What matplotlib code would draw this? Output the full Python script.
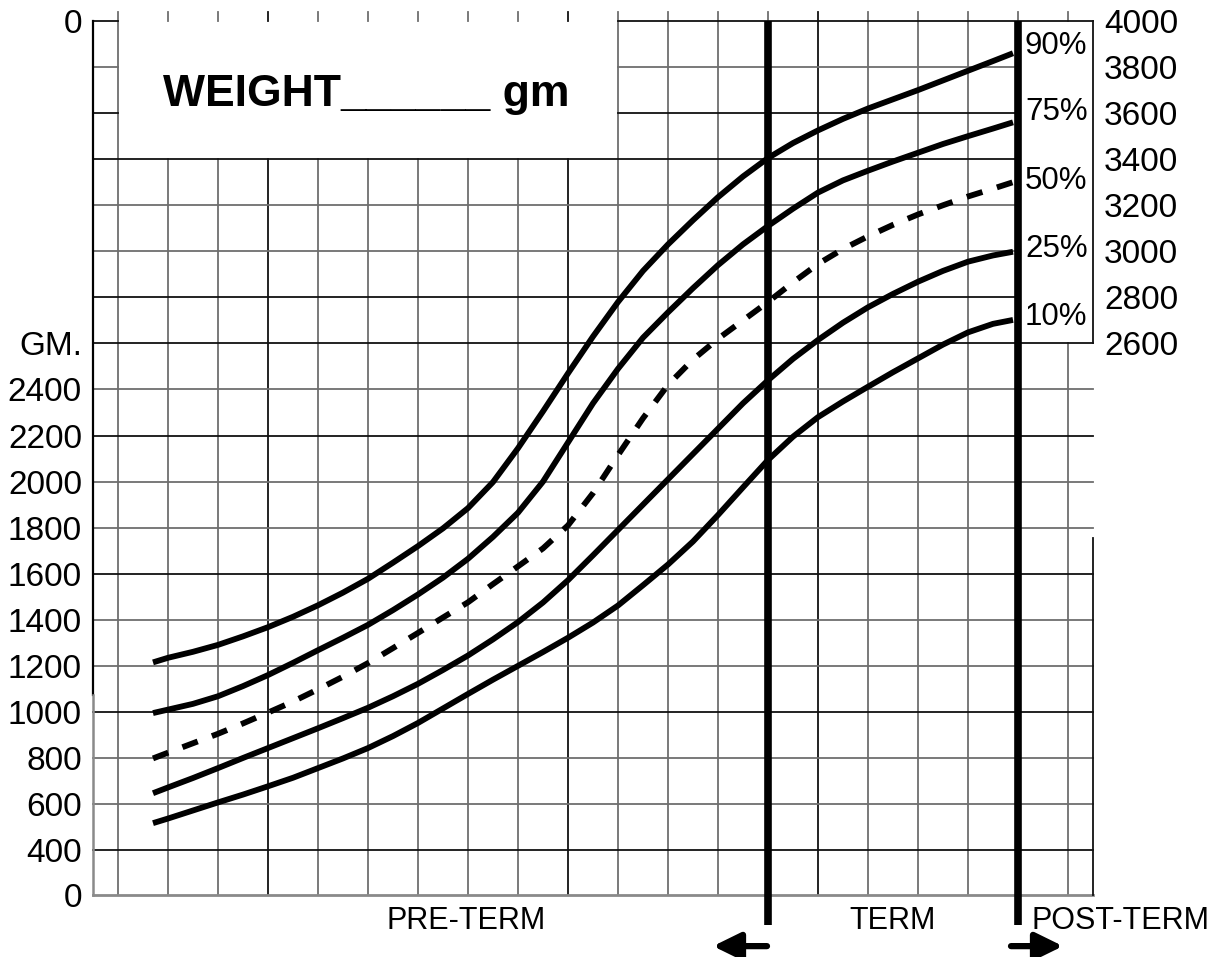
import matplotlib.pyplot as plt

plt.rcParams['font.family'] = ['Liberation Sans', 'DejaVu Sans']

# gestational age (weeks) and weight percentiles (gm)
weeks = [24.7, 25, 25.5, 26, 26.5, 27, 27.5, 28, 28.5, 29, 29.5, 30, 30.5, 31, 31.5, 32, 32.5, 33,
         33.5, 34, 34.5, 35, 35.5, 36, 36.5, 37, 37.5, 38, 38.5, 39, 39.5, 40, 40.5, 41, 41.5, 41.9]
p90 = [1215, 1235, 1261, 1291, 1328, 1368, 1413, 1463, 1518, 1578, 1648, 1720, 1797, 1885, 1998, 2145,
       2305, 2470, 2630, 2780, 2915, 3030, 3135, 3235, 3325, 3405, 3470, 3525, 3575, 3620, 3660, 3700,
       3742, 3784, 3826, 3860]
p75 = [995, 1010, 1035, 1068, 1112, 1160, 1213, 1268, 1322, 1378, 1442, 1510, 1583, 1665, 1760, 1865,
       2000, 2170, 2340, 2490, 2625, 2735, 2840, 2940, 3030, 3110, 3185, 3255, 3308, 3350, 3390, 3428,
       3466, 3500, 3533, 3560]
p50 = [798, 823, 864, 905, 950, 997, 1045, 1098, 1153, 1212, 1277, 1343, 1410, 1476, 1555, 1632,
       1710, 1810, 1950, 2115, 2275, 2420, 2530, 2620, 2700, 2780, 2865, 2945, 3010, 3065, 3115, 3160,
       3200, 3238, 3272, 3300]
p25 = [647, 672, 713, 756, 800, 843, 886, 929, 973, 1018, 1068, 1122, 1182, 1245, 1315, 1390,
       1475, 1572, 1680, 1790, 1900, 2010, 2120, 2230, 2340, 2440, 2533, 2615, 2690, 2757, 2815, 2868,
       2915, 2955, 2982, 2998]
p10 = [517, 537, 572, 607, 641, 677, 714, 756, 798, 843, 895, 952, 1015, 1078, 1140, 1200,
       1260, 1322, 1388, 1462, 1550, 1640, 1740, 1855, 1975, 2094, 2195, 2280, 2348, 2412, 2475, 2535,
       2595, 2648, 2685, 2702]

pct_labels = ['90%', '75%', '50%', '25%', '10%']
pct_label_y = [3891, 3605, 3305, 3010, 2715]

left_ticks = [205, 400, 600, 800, 1000, 1200, 1400, 1600, 1800, 2000, 2200, 2400, 2600, 4000]
left_labels = ['0', '400', '600', '800', '1000', '1200', '1400', '1600', '1800', '2000', '2200',
               '2400', 'GM.', '0']
right_ticks = [2600, 2800, 3000, 3200, 3400, 3600, 3800, 4000]
right_labels = ['2600', '2800', '3000', '3200', '3400', '3600', '3800', '4000']

term_weeks = [37, 42]

X0, X1 = 23.5, 43.5
Y0, Y1 = 205, 4000
DARK = '#111111'
GRAY = '#6e6e6e'

fig = plt.figure(figsize=(12.26, 9.57), dpi=100)
ax = fig.add_axes([93 / 1226, 62 / 957, 1000 / 1226, 874 / 957])
ax.set_xlim(X0, X1)
ax.set_ylim(Y0, Y1)
for s in ax.spines.values():
   s.set_visible(False)

# ---- grid (weight box at top left has no grid) ----
for w in range(24, 44):
   c = DARK if w in (27, 33, 38) else GRAY
   top = Y1
   if 25 <= w <= 33:
      top = 3400
   if w == 43:
      top = 2600
   ax.plot([w, w], [Y0, top], color=c, lw=1.3, zorder=1)
   ax.plot([w, w], [Y1, Y1 + 40], color=c, lw=1.3, zorder=1, clip_on=False)

for g in range(400, 4001, 200):
   c = DARK if g in (400, 1000, 1600, 2200, 2600, 2800, 3400, 3600, 4000) else GRAY
   if g <= 2600:
      segs = [(X0, X1)]
   elif g <= 3400:
      segs = [(X0, 42)]
   elif g < 4000:
      segs = [(X0, 24), (34, 42)]
   else:
      segs = [(X0, 24), (34, X1)]
   for a, b in segs:
      ax.plot([a, b], [g, g], color=c, lw=1.3, zorder=1, clip_on=False)

# borders
ax.plot([X0, X0], [1073, Y1], color='black', lw=1.6, clip_on=False, zorder=2)
ax.plot([X0, X0], [Y0, 1073], color='#8a8a8a', lw=1.8, clip_on=False, zorder=2)
ax.plot([X0, X1], [Y0, Y0], color='#8a8a8a', lw=2.0, clip_on=False, zorder=2)
ax.plot([X1, X1], [Y0, 1755], color=DARK, lw=1.3, clip_on=False, zorder=2)
ax.plot([X1, X1], [2600, Y1], color=DARK, lw=1.3, clip_on=False, zorder=2)

# term boundaries
for w in term_weeks:
   ax.plot([w, w], [74, Y1], color='black', lw=5.5, solid_capstyle='butt', clip_on=False, zorder=4)

# ---- percentile curves ----
for vals in [p90, p75, p25, p10]:
   ax.plot(weeks, vals, color='black', lw=4.2, solid_capstyle='butt', solid_joinstyle='round', zorder=3)
ax.plot(weeks, p50, color='black', lw=4.2, linestyle=(0, (2.8, 2.6)), dash_capstyle='butt',
        dash_joinstyle='round', zorder=3)

for lbl, y in zip(pct_labels, pct_label_y):
   ax.text(42.14, y, lbl, fontsize=22.5, ha='left', va='center')

# ---- axis labels ----
ax.set_xticks([])
ax.set_yticks(left_ticks, left_labels, fontsize=24)
ax.tick_params(axis='y', length=0, pad=8)

ax2 = ax.twinx()
ax2.set_ylim(Y0, Y1)
for s in ax2.spines.values():
   s.set_visible(False)
ax2.set_yticks(right_ticks, right_labels, fontsize=24)
ax2.tick_params(axis='y', length=0, pad=8)

ax.text(24.9, 3631, 'WEIGHT______ gm', fontsize=32, fontweight='bold', ha='left', va='baseline')

ax.text(30.96, 92, 'PRE-TERM', fontsize=22, ha='center', va='center')
ax.text(39.5, 92, 'TERM', fontsize=22, ha='center', va='center')
ax.text(42.28, 92, 'POST-TERM', fontsize=22, ha='left', va='center')

arrow = dict(arrowstyle='-|>,head_length=0.55,head_width=0.27', lw=4.5, color='black',
             mutation_scale=30, shrinkA=0, shrinkB=0)
ax.annotate('', xy=(35.9, -17), xytext=(36.98, -17), arrowprops=arrow, annotation_clip=False)
ax.annotate('', xy=(42.9, -17), xytext=(41.86, -17), arrowprops=arrow, annotation_clip=False)

fig.savefig('out.png', dpi=100)
